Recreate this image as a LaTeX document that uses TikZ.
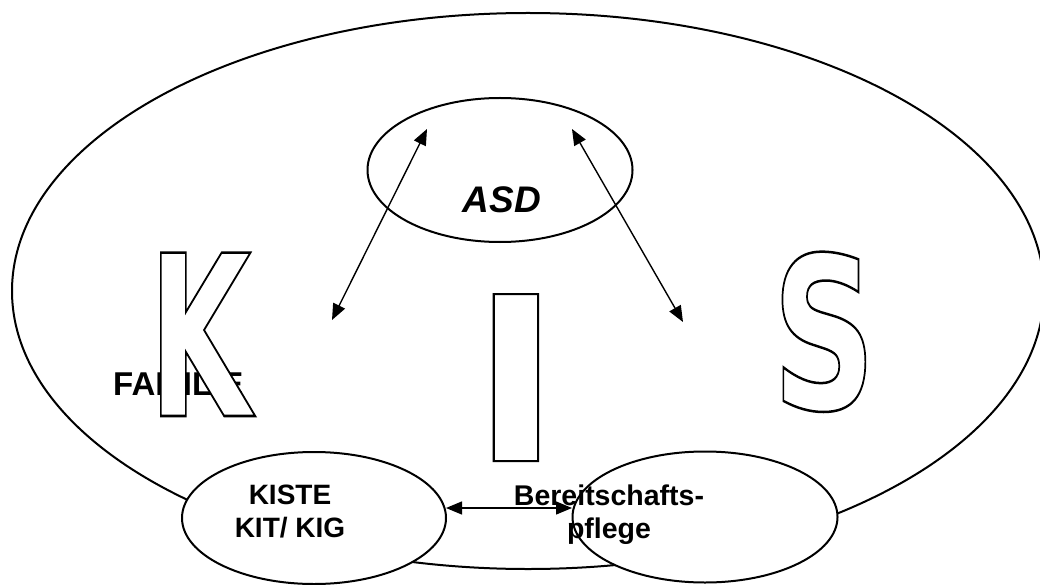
\documentclass[tikz,border=0pt]{standalone}
\usepackage{fontspec}
\setmainfont{Liberation Sans}
\newfontfamily\heavyfont{DejaVu Sans}
\usetikzlibrary{arrows.meta,shapes.geometric}
\newcommand\outlinedletter[2]{\special{pdf:literal direct 2 Tr #1 w 0 G 1 g}#2\special{pdf:literal direct 0 Tr 1 w 0 G 0 g}}
\begin{document}
\begin{tikzpicture}[x=1pt,y=-1pt,
  oval/.style={draw,line width=2pt,ellipse,fill=white,inner sep=0pt},
  lbl/.style={font=\fontsize{28}{33}\selectfont\bfseries,align=center,inner sep=0pt},
  dbl/.style={line width=1.4pt,{Triangle[length=16pt,width=13pt]}-{Triangle[length=16pt,width=13pt]}},
  bigletter/.style={inner sep=0pt,anchor=base}
]
\useasboundingbox (0,0) rectangle (1040,585);
\node[draw,line width=2pt,ellipse,minimum width=1032pt,minimum height=556pt,inner sep=0pt] (fam) at (528,291) {};
\node[oval,minimum width=265pt,minimum height=144pt] (asd) at (500,170) {};
\node[inner sep=0pt,anchor=base,font=\fontsize{37}{40}\selectfont\bfseries\itshape] (asdt) at (502,213) {ASD};
\node[inner sep=0pt,anchor=base west,font=\fontsize{33}{36}\selectfont\bfseries] (famt) at (113,395) {FAMILIE};
\node[bigletter] (k) at (200,416) {\scalebox{0.59}[1]{\fontsize{224}{224}\selectfont\heavyfont\bfseries\outlinedletter{2.5}{K}}};
\node[bigletter] (i) at (516,461) {\scalebox{1.03}[1]{\fontsize{229}{229}\selectfont\heavyfont\bfseries\outlinedletter{2}{I}}};
\node[bigletter] (s) at (824,409) {\scalebox{0.68}[1]{\fontsize{212}{212}\selectfont\heavyfont\bfseries\outlinedletter{2.5}{S}}};
\coordinate (a1) at (332,320); \coordinate (a2) at (427,129);
\coordinate (b1) at (683,322); \coordinate (b2) at (572,129);
\draw[dbl] (a1) -- (a2);
\draw[dbl] (b1) -- (b2);
\node[oval,minimum width=264pt,minimum height=132pt] (kiste) at (314,518) {};
\node[oval,minimum width=265pt,minimum height=131pt] (bp) at (705,517) {};
\coordinate (c1) at (446,508); \coordinate (c2) at (572,508);
\draw[dbl] (c1) -- (c2);
\node[lbl,anchor=north] (kt) at (290,485) {KISTE\\KIT/ KIG};
\node[lbl,anchor=north,font=\fontsize{28.5}{33}\selectfont\bfseries] (bt) at (609,484.5) {Bereitschafts-\\pflege};
\end{tikzpicture}
\end{document}
